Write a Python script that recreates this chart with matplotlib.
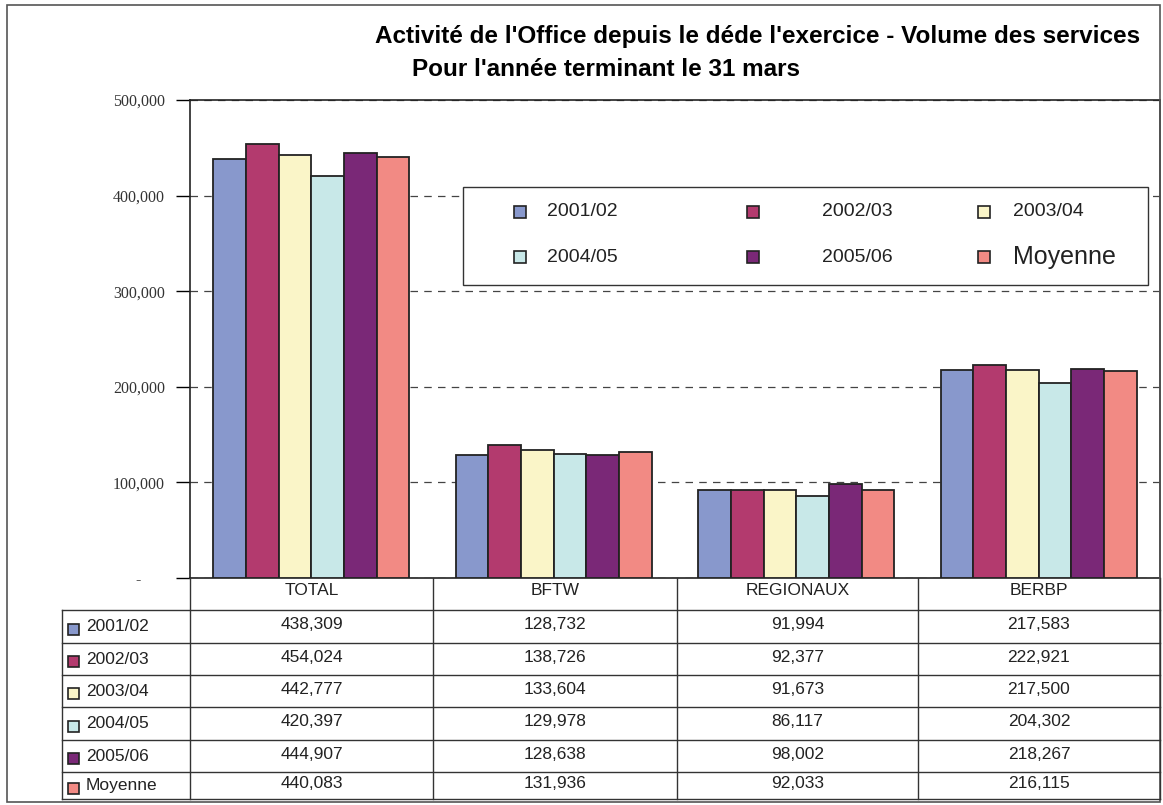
import numpy as np
import matplotlib.pyplot as plt
from matplotlib.patches import Rectangle
from matplotlib.lines import Line2D

# Data
categories = ["TOTAL", "BFTW", "REGIONAUX", "BERBP"]
series = ["2001/02", "2002/03", "2003/04", "2004/05", "2005/06", "Moyenne"]
v2001 = [438309, 128732, 91994, 217583]
v2002 = [454024, 138726, 92377, 222921]
v2003 = [442777, 133604, 91673, 217500]
v2004 = [420397, 129978, 86117, 204302]
v2005 = [444907, 128638, 98002, 218267]
vmoy = [440083, 131936, 92033, 216115]
values = [v2001, v2002, v2003, v2004, v2005, vmoy]
colors = ["#8898cc", "#b33a6e", "#faf5c8", "#c8e8e8", "#7a2877", "#f28a84"]
ytick_vals = [0, 100000, 200000, 300000, 400000, 500000]
ytick_labels = ["-      ", "100,000", "200,000", "300,000", "400,000", "500,000"]

W, H = 1163, 805
fig = plt.figure(figsize=(W / 100, H / 100), dpi=100)


def fx(x):
    return x / W


def fy(y):
    return 1 - y / H


# outer frame
fig.add_artist(Rectangle((fx(7), fy(802)), fx(1160) - fx(7), fy(5) - fy(802),
                         fill=False, edgecolor="#555555", lw=1.2,
                         transform=fig.transFigure))

# titles
fig.text(fx(758), fy(36), "Activité de l'Office depuis le déde l'exercice - Volume des services",
         ha="center", va="center", fontsize=17.5, fontweight="bold", family="Liberation Sans")
fig.text(fx(606), fy(69), "Pour l'année terminant le 31 mars",
         ha="center", va="center", fontsize=17.5, fontweight="bold", family="Liberation Sans")

# chart
left, right, top, bottom = 190, 1160, 100, 578
ax = fig.add_axes([fx(left), fy(bottom), fx(right) - fx(left), fy(top) - fy(bottom)])
x = np.arange(len(categories))
w = 0.135
for i, (name, vals) in enumerate(zip(series, values)):
    ax.bar(x + (i - 2.5) * w, vals, w, color=colors[i], edgecolor="#222222",
           lw=1.3, label=name, zorder=3)

ax.set_xlim(-0.5, 3.5)
ax.set_ylim(0, 500000)
ax.set_yticks(ytick_vals)
ax.set_yticklabels(ytick_labels, family="Liberation Serif", fontsize=11.5, color="#333333")
ax.tick_params(axis="y", length=10, width=1, pad=8)
ax.set_xticks([])
ax.yaxis.grid(True, ls=(0, (6, 5)), color="#444444", lw=0.9, zorder=0)
for s in ax.spines.values():
    s.set_color("#222222")
    s.set_linewidth(1.2)

# legend box
fig.add_artist(Rectangle((fx(463), fy(285)), fx(1148) - fx(463), fy(187) - fy(285),
                         facecolor="white", edgecolor="#333333", lw=1.0,
                         transform=fig.transFigure, zorder=5))
mark_x = [520, 753, 984]
text_x = [547, 822, 1013]
row_yc = [212, 257]
for i, name in enumerate(series):
    r, c = divmod(i, 3)
    fig.add_artist(Rectangle((fx(mark_x[c] - 6), fy(row_yc[r] + 6)), fx(12), fy(0) - fy(12),
                             facecolor=colors[i], edgecolor="#222222", lw=1.2,
                             transform=fig.transFigure, zorder=6))
    fig.text(fx(text_x[c]), fy(row_yc[r]), name, ha="left", va="center",
             fontsize=18 if name == "Moyenne" else 14, family="Liberation Sans",
             color="#222222", zorder=6)

# table below chart
col_x = [190, 433, 677, 918, 1160]
row_y = [578, 610, 643, 675, 707, 740, 772, 799]
line_kw = dict(color="#333333", lw=1.0, transform=fig.transFigure)
for cx in col_x:
    fig.add_artist(Line2D([fx(cx), fx(cx)], [fy(578), fy(799)], **line_kw))
fig.add_artist(Line2D([fx(62), fx(62)], [fy(610), fy(799)], **line_kw))
for ry in row_y[1:]:
    fig.add_artist(Line2D([fx(62), fx(1160)], [fy(ry), fy(ry)], **line_kw))

tfont = dict(fontsize=12.5, family="Liberation Sans", color="#222222")
for j, cat in enumerate(categories):
    fig.text(fx((col_x[j] + col_x[j + 1]) / 2), fy(590), cat, ha="center", va="center", **tfont)
for i, (name, vals) in enumerate(zip(series, values)):
    yc = (row_y[i + 1] + row_y[i + 2]) / 2
    fig.add_artist(Rectangle((fx(68), fy(yc + 8)), fx(11), fy(0) - fy(11),
                             facecolor=colors[i], edgecolor="#222222", lw=1.2,
                             transform=fig.transFigure))
    fig.text(fx(86), fy(yc), name, ha="left", va="center", **tfont)
    for j, v in enumerate(vals):
        fig.text(fx((col_x[j] + col_x[j + 1]) / 2), fy(yc - 2), f"{v:,}", ha="center",
                 va="center", **tfont)

fig.savefig("out.png", dpi=100)
